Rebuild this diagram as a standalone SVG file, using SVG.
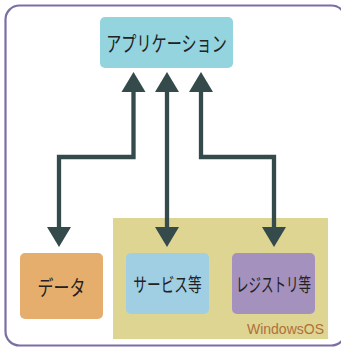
<svg xmlns="http://www.w3.org/2000/svg" width="341" height="348" viewBox="0 0 341 348">
<defs>
<style>
.box{stroke:none}
.lbl{font-family:"Noto Sans CJK JP","Liberation Sans",sans-serif;fill:#222;text-anchor:middle}
.conn{fill:none;stroke:#354a4a;stroke-width:4.3}
.head{fill:#354a4a}
</style>
</defs>
<rect x="5.5" y="5.5" width="340" height="340" rx="14" fill="#fff" stroke="#7b6ea6" stroke-width="2.2"/>
<g id="windowsos">
<rect x="113" y="218" width="215" height="121" fill="#ded593"/>
<text x="324" y="334" font-family="Liberation Sans,sans-serif" font-size="14" fill="#b0703a" text-anchor="end">WindowsOS</text>
</g>
<g id="connectors">
<polyline class="conn" points="133.5,90 133.5,157 59,157 59,228"/>
<line class="conn" x1="167" y1="90" x2="167" y2="228"/>
<polyline class="conn" points="201,90 201,157 274,157 274,228"/>
<polygon class="head" points="133.5,72 121.5,92 145.5,92"/>
<polygon class="head" points="167,72 155,92 179,92"/>
<polygon class="head" points="201,72 189,92 213,92"/>
<polygon class="head" points="59,247 47,227 71,227"/>
<polygon class="head" points="167,247 155,227 179,227"/>
<polygon class="head" points="274,247 262,227 286,227"/>
</g>
<g id="app">
<rect class="box" x="100" y="17" width="133" height="51" rx="5" fill="#93d4de"/>
<text class="lbl" transform="translate(166.5,51) scale(0.72,1)" font-size="21">アプリケーション</text>
</g>
<g id="data">
<rect class="box" x="20" y="253" width="83" height="66" rx="5" fill="#e5ae6c"/>
<text class="lbl" transform="translate(61.5,295) scale(0.76,1)" font-size="21">データ</text>
</g>
<g id="service">
<rect class="box" x="126" y="253" width="83" height="61" rx="5" fill="#a0cee2"/>
<text class="lbl" transform="translate(167.5,292) scale(0.72,1)" font-size="19">サービス等</text>
</g>
<g id="registry">
<rect class="box" x="232" y="253" width="83" height="61" rx="5" fill="#a591bd"/>
<text class="lbl" transform="translate(273.5,292) scale(0.66,1)" font-size="19">レジストリ等</text>
</g>
</svg>
